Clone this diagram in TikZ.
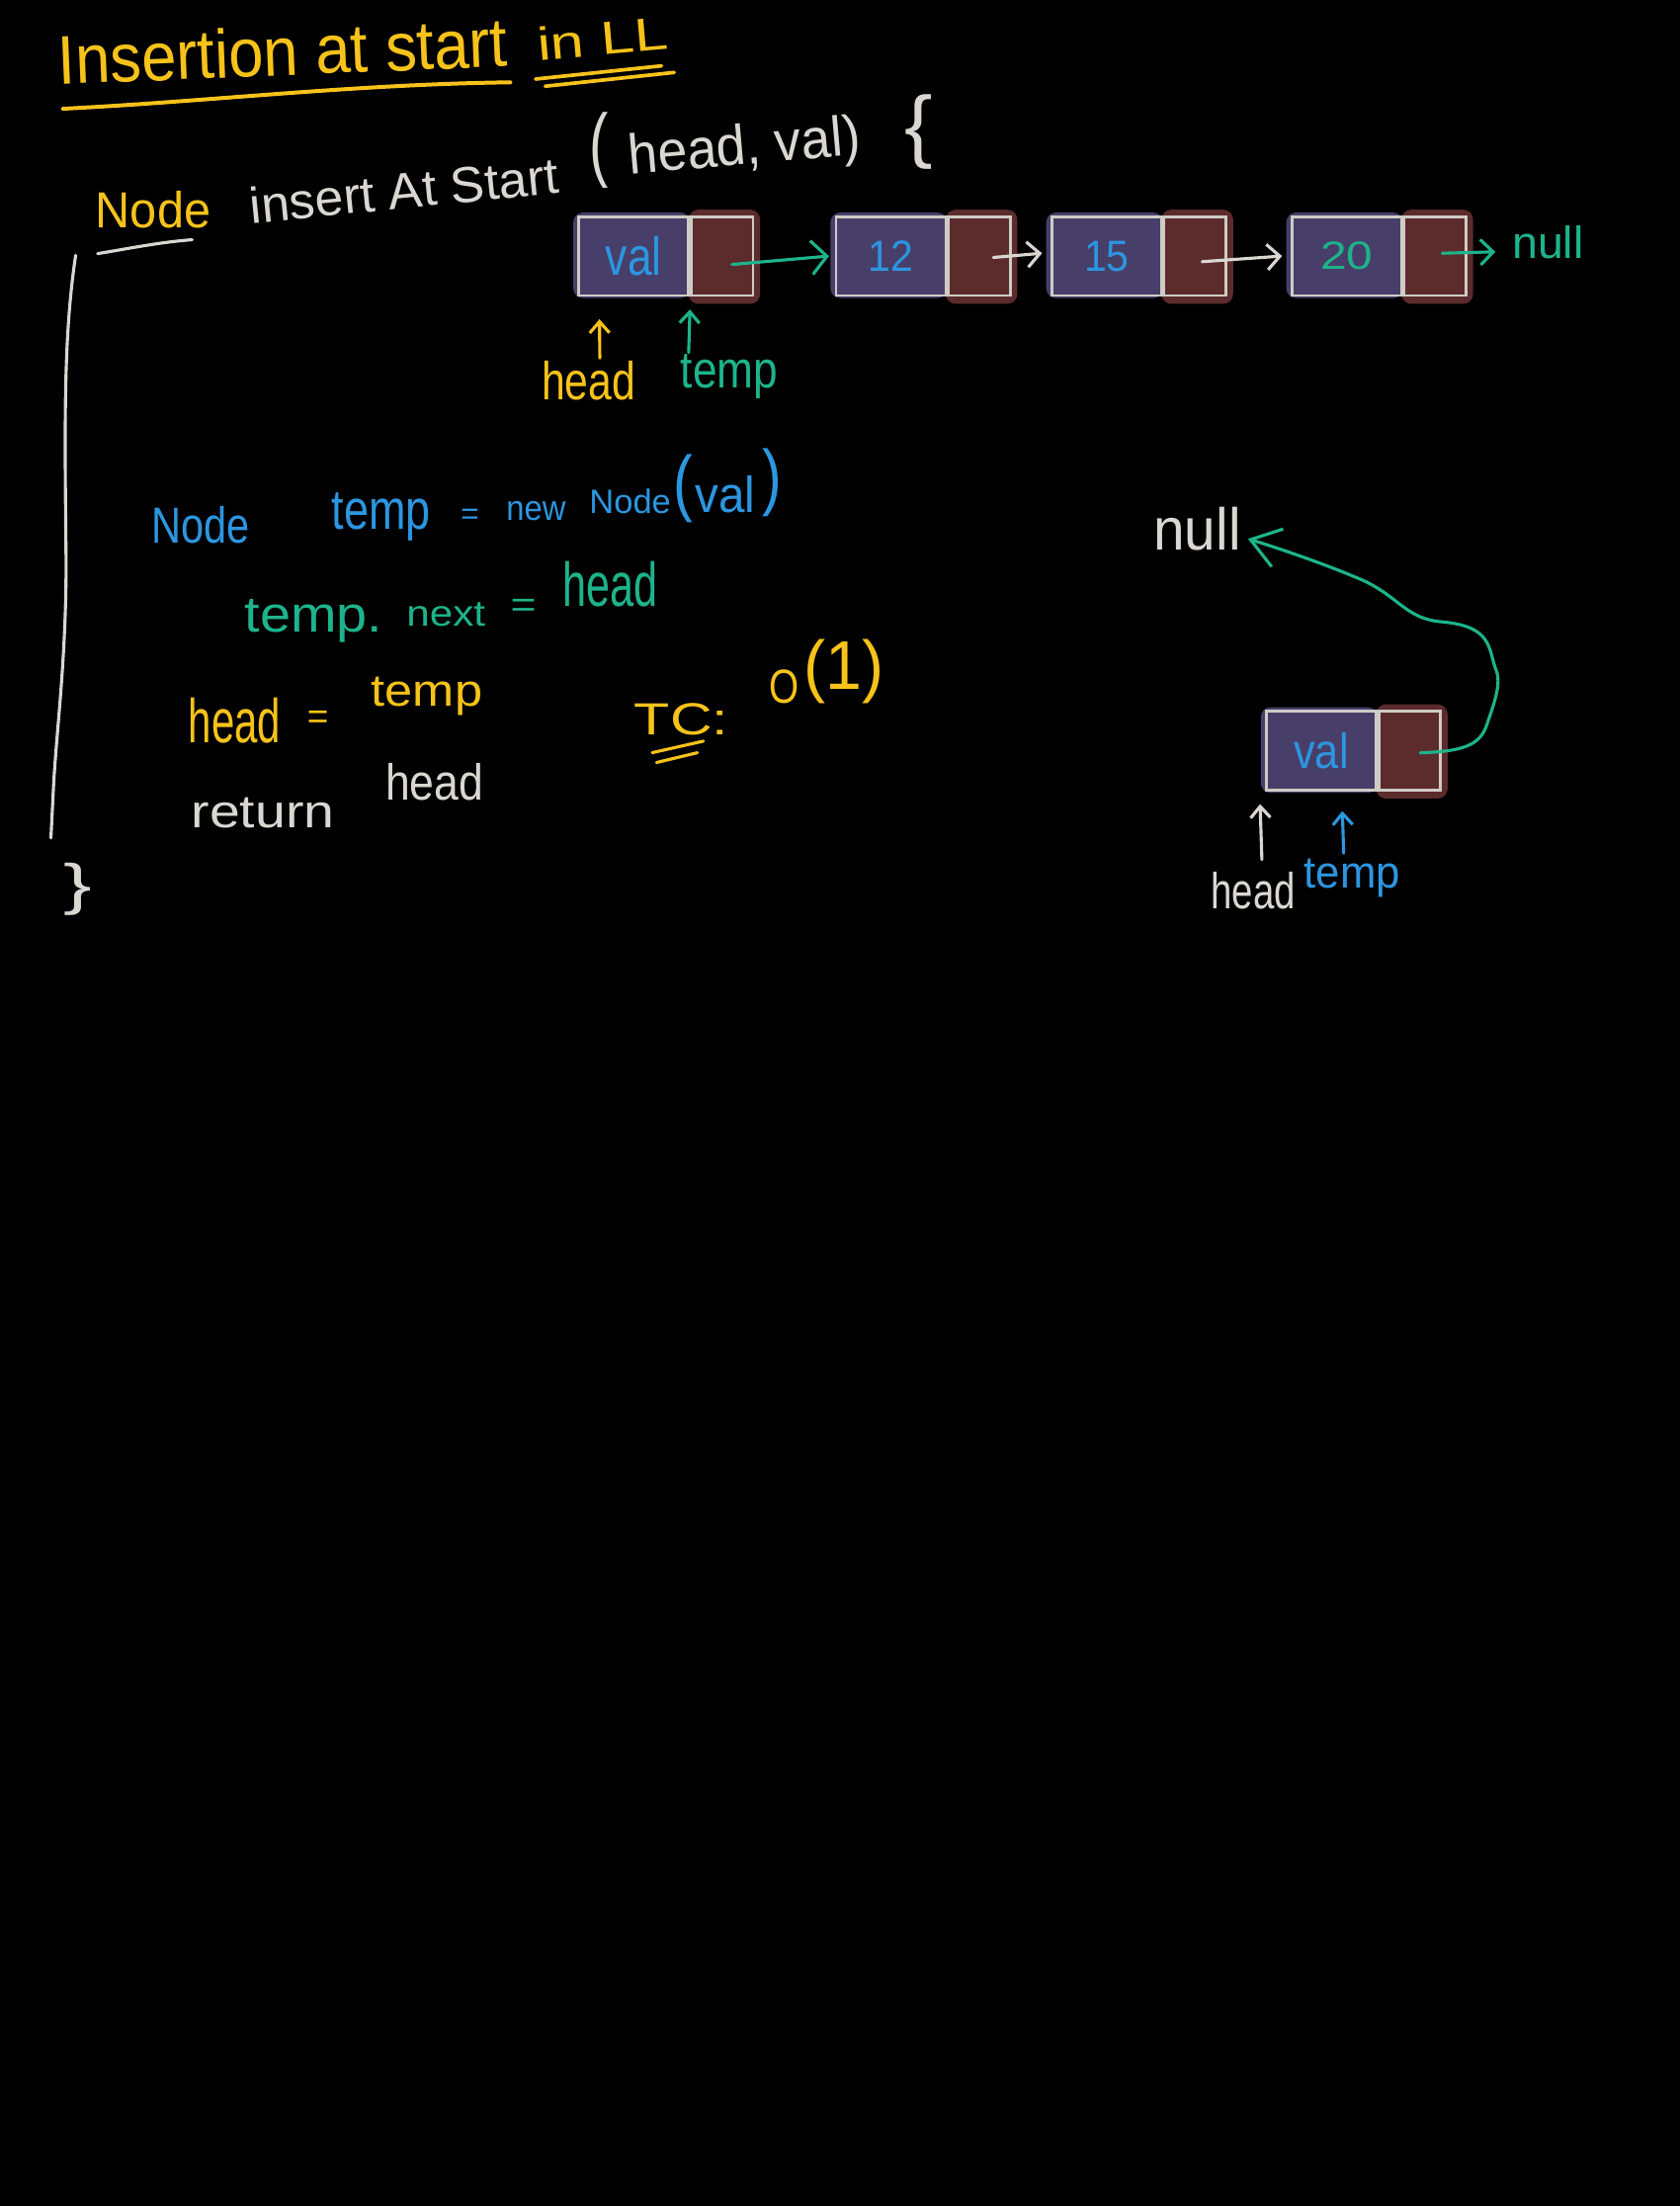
\documentclass[tikz,border=0pt]{standalone}
\usepackage{fontspec}
\setmainfont{Liberation Sans}
\usepackage{graphicx}
\usetikzlibrary{arrows.meta,calc,backgrounds}
\definecolor{yel}{HTML}{F7C31A}
\definecolor{tea}{HTML}{1DB48B}
\definecolor{blu}{HTML}{2C96E0}
\definecolor{wht}{HTML}{DAD7D2}
\definecolor{purp}{HTML}{473F69}
\definecolor{redc}{HTML}{5C2B2C}
\definecolor{boxc}{HTML}{CFCBC5}
\newcommand{\hw}[3]{\fontsize{#1}{#1}\selectfont\scalebox{#2}[1]{#3}}
\tikzset{
  txt/.style={inner sep=0pt, outer sep=0pt, anchor=base west},
  ctr/.style={inner sep=0pt, outer sep=0pt, anchor=center},
  pen/.style={line width=2.2pt, line cap=round, line join=round},
  valcell/.style={draw=boxc, line width=1.9pt, rectangle, inner sep=0pt, minimum width=78pt, minimum height=56pt},
  ptrcell/.style={draw=boxc, line width=1.9pt, rectangle, inner sep=0pt, minimum width=44pt, minimum height=56pt, anchor=west},
  tipbig/.style={-{Straight Barb[length=11pt,width=24pt]}},
  tipmid/.style={-{Straight Barb[length=9pt,width=18pt]}},
  tipup/.style={-{Straight Barb[length=8pt,width=14pt]}},
  tiphuge/.style={-{Straight Barb[length=20pt,width=28pt]}},
}
\begin{document}
\begin{tikzpicture}[x=1pt,y=-1pt]
\begin{scope}[on background layer]
  \fill[black] (0,0) rectangle (1194,1568);
\end{scope}
\useasboundingbox (0,0) rectangle (1194,1568);

% ---------- title ----------
\node[txt, rotate=2.3, text=yel] (title) at (42,60) {\hw{49}{0.91}{Insertion at start}};
\node[txt, rotate=5, text=yel] (inll) at (383,43) {\hw{33}{1.3}{in LL}};
\draw[pen, yel, line width=2.8pt] (44.8,77.3) .. controls (150,72) and (250,60) .. (362.8,58.5);
\draw[pen, yel, line width=2.6pt] (380.7,56.2) -- (470.3,46.8);
\draw[pen, yel, line width=2.6pt] (387.5,61.3) -- (479.3,51.5);

% ---------- signature ----------
\node[txt, text=yel] (nodekw) at (68,162) {\hw{36}{0.95}{Node}};
\node[txt, rotate=5.7, text=wht] (fname) at (179,159) {\hw{36}{1.01}{insert At Start}};
\node[ctr, text=wht] (lpar) at (425.5,107) {\hw{58}{0.7}{(}};
\node[txt, rotate=5, text=wht] (args) at (448,124) {\hw{40}{0.94}{head, val)}};
\node[ctr, text=wht] (obrace) at (653,94) {\hw{57}{1.05}{\{}};
\draw[pen, wht] (69.4,180.3) .. controls (95,176) and (115,172) .. (136.6,170.4);

% body bar and closing brace
\draw[pen, wht] (53.8,181.4) .. controls (45,240) and (46,300) .. (47,400) .. controls (47,470) and (40,520) .. (38,560) -- (36.2,595.6);
\node[ctr, text=wht] (cbrace) at (55.4,632) {\hw{40}{1.5}{\}}};

% ---------- linked list ----------
\node[valcell, text=blu] (v1) at (450.5,182) {\hw{38}{0.82}{val}};
\node[ptrcell] (p1) at (v1.east) {};
\node[valcell, text=blu] (v2) at (633.3,182) {\hw{31}{0.93}{12}};
\node[ptrcell] (p2) at (v2.east) {};
\node[valcell, text=blu] (v3) at (786.7,182) {\hw{31}{0.93}{15}};
\node[ptrcell] (p3) at (v3.east) {};
\node[valcell, text=tea] (v4) at (957.3,182) {\hw{28}{1.2}{20}};
\node[ptrcell] (p4) at (v4.east) {};
\node[txt, text=tea] (nullA) at (1075,184) {\hw{32}{1.02}{null}};

\draw[pen, tea, tipbig] ([shift={(7pt,-6pt)}]p1.center) -- ([xshift=-4pt]v2.west);
\draw[pen, wht, tipmid] ([shift={(10pt,-1pt)}]p2.center) -- ([shift={(-6pt,2pt)}]v3.west);
\draw[pen, wht, tipmid] ([shift={(5pt,-4pt)}]p3.center) -- ([xshift=-6pt]v4.west);
\draw[pen, tea, tipmid] ([shift={(5pt,2pt)}]p4.center) -- ([shift={(-12pt,5pt)}]nullA.base west);

\node[txt, text=yel] (head1) at (385,284) {\hw{38}{0.79}{head}};
\node[txt, text=tea] (temp1) at (484,276) {\hw{37}{0.84}{temp}};
\draw[pen, yel, tipup] ([shift={(8pt,2pt)}]head1.north) -- ($(v1.south west)+(15.6,16)$);
\draw[pen, tea, tipup] ([shift={(-29pt,1.5pt)}]temp1.north) -- ($(p1.south west)+(0,9)$);

% ---------- code ----------
\node[txt, text=blu] (c1a) at (108,386) {\hw{36}{0.81}{Node}};
\node[txt, text=blu] (c1b) at (236,376) {\hw{40}{0.79}{temp}};
\node[ctr, text=blu] (c1c) at (334,367.5) {\hw{22}{1}{=}};
\node[txt, text=blu] (c1d) at (360,370) {\hw{25}{0.92}{new}};
\node[txt, text=blu] (c1e) at (419,365) {\hw{24}{1.01}{Node}};
\node[ctr, text=blu] (c1f) at (486,347) {\hw{52}{0.8}{(}};
\node[txt, text=blu] (c1g) at (494,364) {\hw{36}{0.93}{val}};
\node[ctr, text=blu] (c1h) at (549,343) {\hw{52}{0.8}{)}};

\node[txt, text=tea] (c2a) at (174,449.5) {\hw{36}{1.09}{temp.}};
\node[txt, text=tea] (c2b) at (289,445) {\hw{26}{1.14}{next}};
\node[ctr, text=tea] (c2c) at (372,432) {\hw{26}{1.2}{=}};
\node[txt, text=tea] (c2d) at (400,431) {\hw{44}{0.69}{head}};

\node[txt, text=yel] (c3a) at (134,528) {\hw{44}{0.67}{head}};
\node[ctr, text=yel] (c3b) at (226,512) {\hw{26}{1}{=}};
\node[txt, text=yel] (c3c) at (264,502) {\hw{32}{1.11}{temp}};

\node[txt, text=wht] (c4a) at (136,588) {\hw{33}{1.18}{return}};
\node[txt, text=wht] (c4b) at (274,569) {\hw{36}{0.87}{head}};

\node[txt, text=yel] (tc1) at (451,522) {\hw{32}{1.3}{TC:}};
\node[txt, text=yel] (tc2) at (547,500) {\hw{34}{0.8}{O}};
\node[ctr, text=yel] (tc3) at (600,477) {\hw{49}{0.95}{(1)}};
\draw[pen, yel] (463.6,535) -- (500,526.8);
\draw[pen, yel] (466.7,542) -- (495.8,535);

% ---------- right diagram ----------
\node[valcell, text=blu] (vR) at (939.2,533.6) {\hw{35}{0.87}{val}};
\node[ptrcell] (pR) at (vR.east) {};
\node[txt, text=wht] (nullR) at (820,391) {\hw{42}{0.95}{null}};
\draw[pen, tea, tiphuge] ([shift={(7.5pt,-1.5pt)}]pR.center)
  .. controls (1040,534) and (1052,530) .. (1057,515)
  .. controls (1062,500) and (1068,485) .. (1063,475)
  .. controls (1058,460) and (1060,445) .. (1025,442)
  .. controls (1000,440) and (995,425) .. (970,413)
  .. controls (945,402) and (910,390) .. ([shift={(5pt,-7pt)}]nullR.east);
\node[txt, text=wht] (headR) at (861,646) {\hw{36}{0.75}{head}};
\node[txt, text=blu] (tempR) at (927,631) {\hw{32}{0.96}{temp}};
\draw[pen, wht, tipup] ([shift={(6pt,9pt)}]headR.north) -- ($(vR.south west)+(-3.5,9)$);
\draw[pen, blu, tipup] ([shift={(-6pt,4pt)}]tempR.north) -- ($(vR.south west)+(55,14)$);

% ---------- highlighter blobs ----------
\begin{scope}[on background layer]
  \foreach \i in {1,2,3,4,R} {
    \fill[purp, rounded corners=7pt] ([shift={(-3pt,2pt)}]v\i.north west) rectangle ([shift={(0pt,-1pt)}]v\i.south east);
    \fill[redc, rounded corners=7pt] ([shift={(-1pt,4pt)}]p\i.north west) rectangle ([shift={(4pt,-5pt)}]p\i.south east);
  }
\end{scope}
\end{tikzpicture}
\end{document}
